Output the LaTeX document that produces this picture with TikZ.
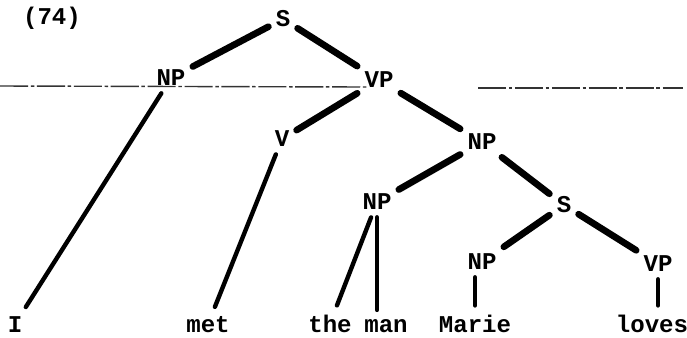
\documentclass[tikz,border=0pt]{standalone}
\usepackage{fontspec}
\setmonofont{Liberation Mono}
\usepackage{tikz}
\tikzset{
    base/.style={font=\ttfamily\bfseries\fontsize{13.7}{16}\selectfont, inner sep=4pt},
    cat/.style={base},
    word/.style={base, anchor=base, inner sep=5pt},
    branch/.style={line width=3.8pt, line cap=round},
    leaf/.style={line width=2.5pt, line cap=round},
    scanline/.style={line width=0.8pt, black!80, dash pattern=on 16pt off 1.5pt on 2pt off 1.5pt}
}

\begin{document}
\begin{tikzpicture}
    \useasboundingbox (0, 0) rectangle (13.74, -6.74);

    % Example number
    \node[base] (num) at (1.04, -0.36) {(74)};

    % Scan line across the page
    \coordinate (scanA) at (0, -1.72);
    \coordinate (scanB) at (7.36, -1.74);
    \coordinate (scanC) at (9.56, -1.76);
    \coordinate (scanD) at (13.66, -1.76);
    \draw[scanline] (scanA) -- (scanB);
    \draw[scanline] (scanC) -- (scanD);

    % Categories
    \node[cat] (S) at (5.66, -0.38) {S};
    \node[cat] (NPsubj) at (3.42, -1.56) {NP};
    \node[cat] (VPmain) at (7.58, -1.60) {VP};
    \node[cat] (V) at (5.64, -2.78) {V};
    \node[cat] (NPobj) at (9.64, -2.84) {NP};
    \node[cat] (NPhead) at (7.54, -4.04) {NP};
    \node[cat] (Srel) at (11.28, -4.10) {S};
    \node[cat] (NPrel) at (9.64, -5.24) {NP};
    \node[cat] (VPrel) at (13.16, -5.28) {VP};

    % Words
    \node[word] (I) at (0.30, -6.64) {I};
    \node[word] (met) at (4.16, -6.64) {met};
    \node[word] (the) at (6.60, -6.64) {the};
    \node[word] (man) at (7.72, -6.64) {man};
    \node[word] (Marie) at (9.50, -6.64) {Marie};
    \node[word] (loves) at (13.04, -6.64) {loves};

    % Branches
    \draw[branch] (S) -- (NPsubj);
    \draw[branch] (S) -- (VPmain);
    \draw[branch] (VPmain) -- (V);
    \draw[branch] (VPmain) -- (NPobj);
    \draw[branch] (NPobj) -- (NPhead);
    \draw[branch] (NPobj) -- (Srel);
    \draw[branch] (Srel) -- (NPrel);
    \draw[branch] (Srel) -- (VPrel);

    % Leaves
    \draw[leaf] (NPsubj) -- (I);
    \draw[leaf] (V) -- (met);
    \draw[leaf] (NPhead) -- (the);
    \draw[leaf] (NPhead.south) -- (NPhead.south |- man.north);
    \draw[leaf] (Marie.north |- NPrel.south) -- (Marie.north);
    \draw[leaf] (VPrel.south) -- (VPrel.south |- loves.north);
\end{tikzpicture}
\end{document}
